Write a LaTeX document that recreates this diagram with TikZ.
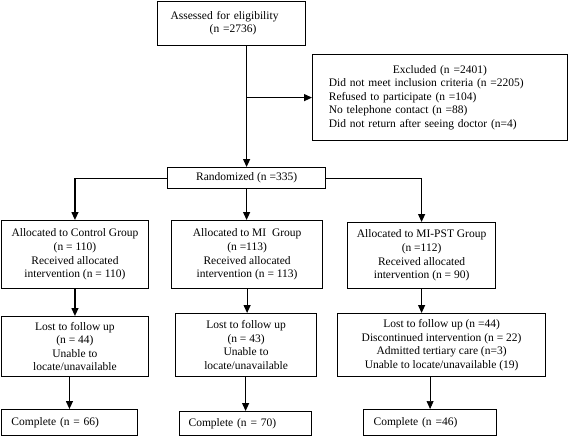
\documentclass[tikz,border=0pt]{standalone}
\usepackage{fontspec}
\setmainfont{Liberation Serif}
\usetikzlibrary{arrows.meta}

\begin{document}
\begin{tikzpicture}[
  x=1pt,
  y=-1pt,
  font=\fontsize{11.5}{13.6}\selectfont,
  box/.style={
    draw,
    rectangle,
    line width=1.2pt,
    inner sep=0pt,
    anchor=north west,
    align=center
  },
  box_left/.style={
    box,
    align=left,
    text width=#1
  },
  arrow/.style={
    draw,
    line width=1.2pt,
    -{Triangle[length=8pt,width=7pt]}
  },
  arrow_thin/.style={
    arrow,
    line width=0.7pt
  }
]%
\useasboundingbox (0,0) rectangle (568,436);

% screening
\node [box_left=122, minimum width=148, minimum height=44] (assess) at (157,0.6)
  {Assessed for eligibility\\\hspace*{3.4em}(n =2736)};
\node [box_left=222, minimum width=254.5, minimum height=86] (excluded) at (312,54)
  {\hfill Excluded (n =2401)\hfill\mbox{}\\
   Did not meet inclusion criteria (n =2205)\\
   Refused to participate (n =104)\\
   No telephone contact (n =88)\\
   Did not return after seeing doctor (n=4)\\[3pt]};
\node [box, minimum width=158, minimum height=21] (random) at (167,167)
  {Randomized (n =335)};

% allocation
\node [box, minimum width=147.5, minimum height=68] (ctrl_alloc) at (0.6,220)
  {Allocated to Control Group\\(n = 110)\\Received allocated\\intervention (n = 110)};
\node [box, minimum width=151, minimum height=68] (mi_alloc) at (171,220)
  {Allocated to MI\ \ Group\\(n =113)\\Received allocated\\intervention (n = 113)};
\node [box, minimum width=148, minimum height=66] (pst_alloc) at (347,222)
  {Allocated to MI-PST Group\\(n =112)\\Received allocated\\intervention (n = 90)};

% follow up
\node [box, minimum width=147.5, minimum height=60] (ctrl_lost) at (0.6,316)
  {Lost to follow up\\(n = 44)\\Unable to\\locate/unavailable};
\node [box, minimum width=141, minimum height=63] (mi_lost) at (175,313)
  {Lost to follow up\\(n = 43)\\Unable to\\locate/unavailable};
\node [box, minimum width=208, minimum height=63] (pst_lost) at (337,313)
  {Lost to follow up (n =44)\\Discontinued intervention (n = 22)\\Admitted tertiary care (n=3)\\Unable to locate/unavailable (19)};

% analysis
\node [box_left=116, minimum width=136.5, minimum height=26.4] (ctrl_done) at (0.6,409)
  {Complete (n = 66)};
\node [box_left=114, minimum width=132, minimum height=24.4] (mi_done) at (179,411)
  {Complete (n = 70)};
\node [box_left=113, minimum width=133, minimum height=26.4] (pst_done) at (363,409)
  {Complete (n =46)};

% connectors
\draw [arrow] (assess.south -| random.north) -- (random.north);
\draw [arrow] (excluded.west -| random.north) -- (excluded.west);
\draw [arrow] (random.west) -| (ctrl_alloc.north);
\draw [arrow] (random.south) -- (random.south |- mi_alloc.north);
\draw [arrow] (random.east) -| (pst_alloc.north);
\draw [arrow] (ctrl_alloc.south) -- (ctrl_lost.north);
\draw [arrow] (mi_alloc.south) -- (mi_alloc.south |- mi_lost.north);
\draw [arrow] (pst_alloc.south) -- (pst_alloc.south |- pst_lost.north);
\draw [arrow] (ctrl_lost.south -| ctrl_done.north) -- (ctrl_done.north);
\draw [arrow] (mi_lost.south -| mi_done.north) -- (mi_done.north);
\draw [arrow_thin] (pst_lost.south -| pst_done.north) -- (pst_done.north);
\end{tikzpicture}
\end{document}
